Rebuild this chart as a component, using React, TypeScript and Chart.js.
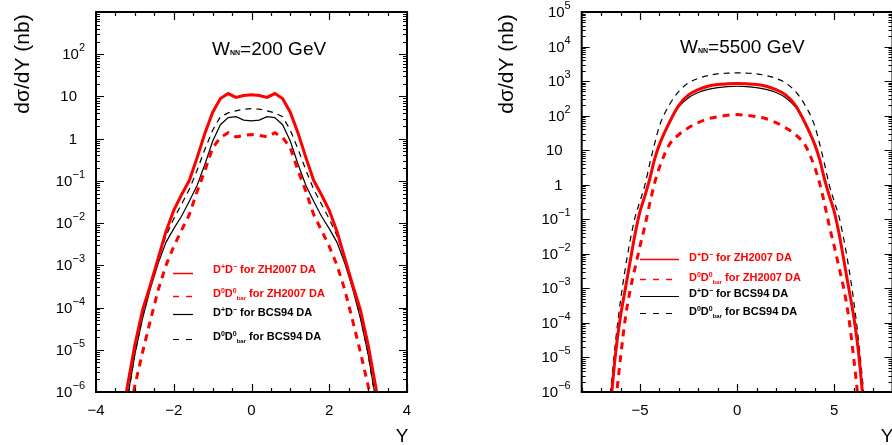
import React, { useEffect, useRef } from 'react';
import { Chart, registerables } from 'chart.js';

Chart.register(...registerables);

// ---------- DATA ----------
// W_NN = 200 GeV panel
const rapidity200 = [
  -3.4, -3.2, -3.0, -2.8, -2.6, -2.4, -2.2, -2.0, -1.8, -1.6, -1.4, -1.2, -1.0, -0.8, -0.6, -0.4, -0.2, 0,
  0.2, 0.4, 0.6, 0.8, 1.0, 1.2, 1.4, 1.6, 1.8, 2.0, 2.2, 2.4, 2.6, 2.8, 3.0, 3.2, 3.4,
];
const zhPlusMinus200 = [
  1.26e-7, 1.26e-6, 1.32e-5, 8.9e-5, 3.47e-4, 1.48e-3, 6.3e-3, 0.02, 0.047, 0.102, 0.355, 1.32, 4.17, 8.9, 11.7, 9.5, 10.5, 11.0,
  10.5, 9.5, 11.7, 8.9, 4.17, 1.32, 0.355, 0.102, 0.047, 0.02, 6.3e-3, 1.48e-3, 3.47e-4, 8.9e-5, 1.32e-5, 1.26e-6, 1.26e-7,
];
const zhZeroZero200 = [
  3.2e-8, 2.0e-7, 1.41e-6, 8.9e-6, 5.0e-5, 2.63e-4, 1.0e-3, 2.8e-3, 6.8e-3, 0.0158, 0.056, 0.174, 0.6, 1.07, 1.38, 1.1, 1.2, 1.26,
  1.2, 1.1, 1.38, 1.07, 0.6, 0.174, 0.056, 0.0158, 6.8e-3, 2.8e-3, 1.0e-3, 2.63e-4, 5.0e-5, 8.9e-6, 1.41e-6, 2.0e-7, 3.2e-8,
];
const bcsPlusMinus200 = [
  6.3e-8, 6.3e-7, 7.9e-6, 5.6e-5, 2.8e-4, 1.12e-3, 3.5e-3, 7.4e-3, 0.0145, 0.033, 0.078, 0.245, 0.87, 2.14, 3.16, 3.31, 2.75, 2.63,
  2.75, 3.31, 3.16, 2.14, 0.87, 0.245, 0.078, 0.033, 0.0145, 7.4e-3, 3.5e-3, 1.12e-3, 2.8e-4, 5.6e-5, 7.9e-6, 6.3e-7, 6.3e-8,
];
const bcsZeroZero200 = [
  5.0e-8, 5.6e-7, 7.9e-6, 6.3e-5, 3.55e-4, 1.41e-3, 5.0e-3, 0.0126, 0.028, 0.063, 0.178, 0.56, 1.58, 3.31, 4.07, 4.57, 5.0, 5.13,
  5.0, 4.57, 4.07, 3.31, 1.58, 0.56, 0.178, 0.063, 0.028, 0.0126, 5.0e-3, 1.41e-3, 3.55e-4, 6.3e-5, 7.9e-6, 5.6e-7, 5.0e-8,
];

// W_NN = 5500 GeV panel
const rapidity5500 = [
  -7, -6.75, -6.5, -6.25, -6, -5.75, -5.5, -5.25, -5, -4.75, -4.5, -4.25, -4, -3.5, -3, -2.5, -2, -1.5, -1, -0.5, 0,
  0.5, 1, 1.5, 2, 2.5, 3, 3.5, 4, 4.25, 4.5, 4.75, 5, 5.25, 5.5, 5.75, 6, 6.25, 6.5, 6.75, 7,
];
const zhPlusMinus5500 = [
  1e-9, 2.0e-8, 5.0e-7, 1.41e-5, 1.58e-4, 1.0e-3, 6.3e-3, 0.038, 0.166, 0.468, 1.45, 5.4, 14.5, 62, 200, 398, 562, 708, 794, 832, 851,
  832, 794, 708, 562, 398, 200, 62, 14.5, 5.4, 1.45, 0.468, 0.166, 0.038, 6.3e-3, 1.0e-3, 1.58e-4, 1.41e-5, 5.0e-7, 2.0e-8, 1e-9,
];
const zhZeroZero5500 = [
  1e-10, 1.26e-9, 2.5e-8, 5.0e-7, 1.0e-5, 1.41e-4, 9.3e-4, 3.98e-3, 0.0166, 0.063, 0.28, 1.1, 3.16, 14.1, 28.2, 44.7, 63, 81, 93, 102, 107,
  102, 93, 81, 63, 44.7, 28.2, 14.1, 3.16, 1.1, 0.28, 0.063, 0.0166, 3.98e-3, 9.3e-4, 1.41e-4, 1.0e-5, 5.0e-7, 2.5e-8, 1.26e-9, 1e-10,
];
const bcsPlusMinus5500 = [
  7.9e-10, 1.58e-8, 4.5e-7, 1.26e-5, 1.41e-4, 8.9e-4, 5.6e-3, 0.035, 0.158, 0.447, 1.35, 5.0, 13.5, 56, 178, 331, 468, 575, 646, 692, 708,
  692, 646, 575, 468, 331, 178, 56, 13.5, 5.0, 1.35, 0.447, 0.158, 0.035, 5.6e-3, 8.9e-4, 1.41e-4, 1.26e-5, 4.5e-7, 1.58e-8, 7.9e-10,
];
const bcsZeroZero5500 = [
  2.5e-9, 5.0e-8, 1.26e-6, 3.16e-5, 4.5e-4, 3.98e-3, 0.025, 0.117, 0.331, 0.955, 3.98, 15.1, 50, 200, 501, 891, 1202, 1445, 1622, 1698, 1738,
  1698, 1622, 1445, 1202, 891, 501, 200, 50, 15.1, 3.98, 0.955, 0.331, 0.117, 0.025, 3.98e-3, 4.5e-4, 3.16e-5, 1.26e-6, 5.0e-8, 2.5e-9,
];

const xTicks200 = [-4, -2, 0, 2, 4];
const xTicks5500 = [-5, 0, 5];
const energies = ['200', '5500'];
const models = ['ZH2007', 'ZH2007', 'BCS94', 'BCS94'];

// ---------- DRAWING HELPERS ----------
const FONT = '"Liberation Sans", Arial, Helvetica, sans-serif';

type Part = { t: string; size: number; dy?: number; bold?: boolean };

function fontOf(p: Part) {
  return `${p.bold ? 'bold ' : ''}${p.size}px ${FONT}`;
}

function drawRich(ctx: CanvasRenderingContext2D, parts: Part[], x: number, y: number, align: 'left' | 'right' | 'center', color: string) {
  ctx.save();
  ctx.fillStyle = color;
  ctx.textBaseline = 'alphabetic';
  ctx.textAlign = 'left';
  const widths = parts.map((p) => {
    ctx.font = fontOf(p);
    return ctx.measureText(p.t).width;
  });
  const total = widths.reduce((a, b) => a + b, 0);
  let cx = align === 'left' ? x : align === 'right' ? x - total : x - total / 2;
  parts.forEach((p, i) => {
    ctx.font = fontOf(p);
    ctx.fillText(p.t, cx, y + (p.dy || 0));
    cx += widths[i];
  });
  ctx.restore();
}

function plusMinusLabel(model: string): Part[] {
  return [
    { t: 'D', size: 11, bold: true },
    { t: '+', size: 7, bold: true, dy: -4 },
    { t: 'D', size: 11, bold: true },
    { t: '\u2212', size: 7, bold: true, dy: -4 },
    { t: ` for ${model} DA`, size: 11, bold: true },
  ];
}
function zeroZeroLabel(model: string): Part[] {
  return [
    { t: 'D', size: 11, bold: true },
    { t: '0', size: 7, bold: true, dy: -4 },
    { t: 'D', size: 11, bold: true },
    { t: '0', size: 7, bold: true, dy: -4 },
    { t: 'bar', size: 6, bold: true, dy: 3 },
    { t: ` for ${model} DA`, size: 11, bold: true },
  ];
}

type PanelSpec = {
  pageLeft: number;
  width: number;
  height: number;
  padding: { left: number; right: number; top: number; bottom: number };
  xMin: number;
  xMax: number;
  xMajor: number[];
  xMinorStep: number;
  yMinExp: number;
  yMaxExp: number;
  yLabelMaxExp: number;
  energy: string;
  titleX: number;
  titleY: number;
  legendX0: number;
  legendX1: number;
  legendTextX: number;
  legendLineY: number[];
  legendTextY: number[];
  yTitleX: number;
  yTitleY: number;
  xTitleX: number;
  xTitleY: number;
  rapidity: number[];
  series: number[][]; // zh +-, zh 00, bcs +-, bcs 00
};

const panels: PanelSpec[] = [
  {
    pageLeft: 0,
    width: 446,
    height: 445,
    padding: { left: 96, right: 39, top: 12, bottom: 53 },
    xMin: -4,
    xMax: 4,
    xMajor: xTicks200,
    xMinorStep: 0.5,
    yMinExp: -6,
    yMaxExp: 3,
    yLabelMaxExp: 2,
    energy: energies[0],
    titleX: 212,
    titleY: 55,
    legendX0: 173,
    legendX1: 193,
    legendTextX: 213,
    legendLineY: [273, 296, 314, 339],
    legendTextY: [273, 297, 316, 340],
    yTitleX: 23,
    yTitleY: 64,
    xTitleX: 402,
    xTitleY: 442,
    rapidity: rapidity200,
    series: [zhPlusMinus200, zhZeroZero200, bcsPlusMinus200, bcsZeroZero200],
  },
  {
    pageLeft: 446,
    width: 448,
    height: 445,
    padding: { left: 135.7, right: 1.5, top: 12, bottom: 53 },
    xMin: -8,
    xMax: 8,
    xMajor: xTicks5500,
    xMinorStep: 1,
    yMinExp: -6,
    yMaxExp: 5,
    yLabelMaxExp: 5,
    energy: energies[1],
    titleX: 234,
    titleY: 53,
    legendX0: 194,
    legendX1: 233,
    legendTextX: 243,
    legendLineY: [259, 279, 296, 313],
    legendTextY: [261, 281, 297, 315],
    yTitleX: 61,
    yTitleY: 64,
    xTitleX: 441,
    xTitleY: 442,
    rapidity: rapidity5500,
    series: [zhPlusMinus5500, zhZeroZero5500, bcsPlusMinus5500, bcsZeroZero5500],
  },
];

const seriesStyles = [
  { color: '#ff0000', width: 3, dash: [] as number[] },
  { color: '#ff0000', width: 3, dash: [7, 6] },
  { color: '#000000', width: 1.2, dash: [] as number[] },
  { color: '#000000', width: 1.2, dash: [6, 5] },
];

function framePlugin(spec: PanelSpec) {
  return {
    id: 'frame' + spec.energy,
    afterDraw(chart: any) {
      const ctx: CanvasRenderingContext2D = chart.ctx;
      const { left, right, top, bottom } = chart.chartArea;
      const xs = chart.scales.x;
      const ys = chart.scales.y;
      ctx.save();
      ctx.strokeStyle = '#000';
      ctx.lineCap = 'butt';

      // y ticks (log)
      ctx.lineWidth = 1.2;
      for (let e = spec.yMinExp; e <= spec.yMaxExp; e++) {
        const py = Math.round(ys.getPixelForValue(Math.pow(10, e))) + 0.5;
        ctx.beginPath();
        ctx.moveTo(left, py);
        ctx.lineTo(left + 8, py);
        ctx.moveTo(right, py);
        ctx.lineTo(right - 8, py);
        ctx.stroke();
        if (e < spec.yMaxExp) {
          for (let m = 2; m <= 9; m++) {
            const my = Math.round(ys.getPixelForValue(m * Math.pow(10, e))) + 0.5;
            ctx.beginPath();
            ctx.moveTo(left, my);
            ctx.lineTo(left + 4, my);
            ctx.moveTo(right, my);
            ctx.lineTo(right - 4, my);
            ctx.stroke();
          }
        }
      }
      // x ticks
      const nSteps = Math.round((spec.xMax - spec.xMin) / spec.xMinorStep);
      for (let i = 0; i <= nSteps; i++) {
        const v = spec.xMin + i * spec.xMinorStep;
        const isMajor = spec.xMajor.some((m) => Math.abs(m - v) < 1e-9);
        const len = isMajor ? 8 : 4;
        const px = Math.round(xs.getPixelForValue(v)) + 0.5;
        ctx.beginPath();
        ctx.moveTo(px, bottom);
        ctx.lineTo(px, bottom - len);
        ctx.moveTo(px, top);
        ctx.lineTo(px, top + len);
        ctx.stroke();
      }
      // frame
      ctx.lineWidth = 2;
      ctx.strokeRect(left, top, right - left, bottom - top);
      ctx.restore();

      // y tick labels
      for (let e = spec.yMinExp; e <= spec.yLabelMaxExp; e++) {
        const py = ys.getPixelForValue(Math.pow(10, e));
        const base = py + 5;
        if (e === 0) {
          drawRich(ctx, [{ t: '1', size: 15 }], left - 19, base, 'right', '#000');
        } else if (e === 1) {
          drawRich(ctx, [{ t: '10', size: 15 }], left - 19, base, 'right', '#000');
        } else {
          const exp = e < 0 ? '\u2212' + -e : String(e);
          drawRich(ctx, [{ t: '10', size: 15 }, { t: exp, size: 11, dy: -8 }], left - 11, base, 'right', '#000');
        }
      }
      // x tick labels
      spec.xMajor.forEach((v) => {
        const px = xs.getPixelForValue(v);
        const txt = v < 0 ? '\u2212' + -v : String(v);
        drawRich(ctx, [{ t: txt, size: 15 }], px, bottom + 23, 'center', '#000');
      });

      // axis titles
      ctx.save();
      ctx.fillStyle = '#000';
      ctx.font = `21px ${FONT}`;
      ctx.translate(spec.yTitleX, spec.yTitleY);
      ctx.rotate(-Math.PI / 2);
      ctx.textAlign = 'center';
      ctx.textBaseline = 'middle';
      ctx.fillText('d\u03c3/dY (nb)', 0, 0);
      ctx.restore();
      drawRich(ctx, [{ t: 'Y', size: 19 }], spec.xTitleX, spec.xTitleY, 'center', '#000');

      // panel title
      drawRich(
        ctx,
        [
          { t: 'W', size: 19 },
          { t: 'NN', size: 7, bold: true },
          { t: `=${spec.energy} GeV`, size: 19 },
        ],
        spec.titleX,
        spec.titleY,
        'left',
        '#000'
      );

      // legend
      const labels = [
        plusMinusLabel(models[0]),
        zeroZeroLabel(models[1]),
        plusMinusLabel(models[2]),
        zeroZeroLabel(models[3]),
      ];
      labels.forEach((parts, i) => {
        const st = seriesStyles[i];
        ctx.save();
        ctx.strokeStyle = st.color;
        ctx.lineWidth = st.width === 3 ? 1.5 : 1.2;
        ctx.setLineDash(st.dash.length ? [6, 7] : []);
        ctx.beginPath();
        ctx.moveTo(spec.legendX0, spec.legendLineY[i] + 0.5);
        ctx.lineTo(spec.legendX1, spec.legendLineY[i] + 0.5);
        ctx.stroke();
        ctx.restore();
        drawRich(ctx, parts, spec.legendTextX, spec.legendTextY[i], 'left', st.color);
      });
    },
  };
}

function Panel({ spec }: { spec: PanelSpec }) {
  const ref = useRef<HTMLCanvasElement | null>(null);
  useEffect(() => {
    if (!ref.current) return;
    const datasets = spec.series.map((vals, i) => ({
      data: spec.rapidity.map((x, j) => ({ x, y: vals[j] })),
      borderColor: seriesStyles[i].color,
      borderWidth: seriesStyles[i].width,
      borderDash: seriesStyles[i].dash,
      pointRadius: 0,
      fill: false,
      tension: spec.xMax > 5 ? 0.35 : 0,
      cubicInterpolationMode: spec.xMax > 5 ? ('monotone' as const) : ('default' as const),
      clip: 0,
    }));
    const chart = new Chart(ref.current, {
      type: 'line',
      data: { datasets },
      options: {
        responsive: false,
        animation: false,
        devicePixelRatio: 1,
        events: [],
        layout: { padding: spec.padding },
        plugins: { legend: { display: false }, tooltip: { enabled: false }, title: { display: false } },
        scales: {
          x: { type: 'linear', min: spec.xMin, max: spec.xMax, display: false },
          y: { type: 'logarithmic', min: Math.pow(10, spec.yMinExp), max: Math.pow(10, spec.yMaxExp), display: false },
        },
      },
      plugins: [framePlugin(spec)],
    } as any);
    return () => chart.destroy();
  }, [spec]);
  return (
    <canvas
      ref={ref}
      width={spec.width}
      height={spec.height}
      style={{ position: 'absolute', left: spec.pageLeft, top: 0, width: spec.width, height: spec.height }}
    />
  );
}

export default function App() {
  return (
    <div style={{ position: 'absolute', left: 0, top: 0, width: 892, height: 445, overflow: 'hidden', background: '#fff' }}>
      {panels.map((p) => (
        <Panel key={p.energy} spec={p} />
      ))}
    </div>
  );
}
